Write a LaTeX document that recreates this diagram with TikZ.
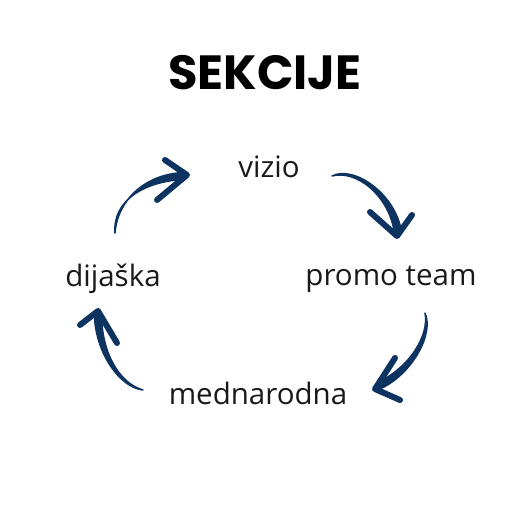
\documentclass[tikz,border=0pt]{standalone}
\usepackage{fontspec}
\setmainfont{Open Sans}
\newfontfamily\titlefont{Poppins}
\usetikzlibrary{positioning}
\definecolor{arrownavy}{HTML}{0D3461}
\tikzset{
  sectionlabel/.style={font=\fontsize{29.5}{34}\selectfont,text=black!90,inner sep=0pt},
  titlelabel/.style={font=\titlefont\bfseries\fontsize{48}{56}\selectfont,inner sep=0pt},
  brushbody/.style={fill=arrownavy,draw=arrownavy,line width=1.5pt,line join=round},
  brushhead/.style={draw=arrownavy,line width=6pt,line cap=round,line join=round}
}
\begin{document}
\begin{tikzpicture}[x=1pt,y=-1pt]
  \useasboundingbox (0,0) rectangle (529,529);
  % title and the four sections
  \node[titlelabel] (title) at (265,73) {SEKCIJE};
  \node[sectionlabel] (vizio) at (269,167) {vizio};
  \node[sectionlabel] (promo) at (391,279) {promo team};
  \node[sectionlabel] (mednarodna) at (258,393) {mednarodna};
  \node[sectionlabel] (dijaska) at (113,279) {dijaška};
  % arrow ends
  \coordinate (vp-tail) at (332,176);
  \coordinate (vp-tip) at (397,236);
  \coordinate (pm-tail) at (425,313);
  \coordinate (pm-tip) at (375,389);
  \coordinate (md-tail) at (143,390);
  \coordinate (md-tip) at (98,311);
  \coordinate (dv-tail) at (115,233);
  \coordinate (dv-tip) at (187,175);
  % vizio -> promo team
  \filldraw[brushbody] (vp-tail) .. controls (354,164.7) and (396.5,194.5) .. (401.5,232.5)
    -- (394.5,233.5) .. controls (389.5,195.5) and (356,169.3) .. (vp-tail) -- cycle;
  \draw[brushhead] (370,212) -- (vp-tip) -- (412,215);
  % promo team -> mednarodna
  \filldraw[brushbody] (pm-tail) .. controls (434.4,334.3) and (411.4,375.2) .. (379.4,389.2)
    -- (376.6,382.8) .. controls (408.6,368.8) and (429.6,335.7) .. (pm-tail) -- cycle;
  \draw[brushhead] (395,358) -- (pm-tip) -- (400,400);
  % mednarodna -> dijaska
  \filldraw[brushbody] (md-tail) .. controls (117.5,382.6) and (101.5,350) .. (101.5,314)
    -- (94.5,314) .. controls (94.5,350) and (118.5,387.4) .. (md-tail) -- cycle;
  \draw[brushhead] (80,325) -- (md-tip) -- (117,343);
  % dijaska -> vizio
  \filldraw[brushbody] (dv-tail) .. controls (117.5,200) and (145,174.5) .. (183,172.5)
    -- (183,179.5) .. controls (145,181.5) and (112.5,200) .. (dv-tail) -- cycle;
  \draw[brushhead] (165,160) -- (dv-tip) -- (157,200);
\end{tikzpicture}
\end{document}
